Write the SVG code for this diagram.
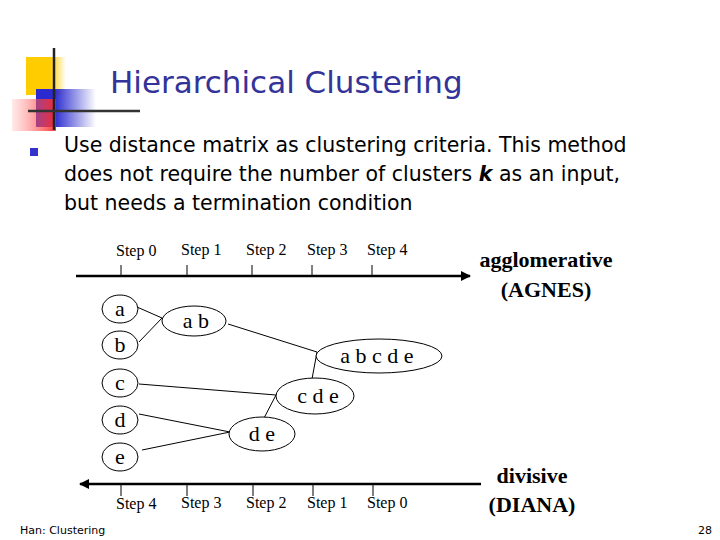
<svg xmlns="http://www.w3.org/2000/svg" width="720" height="540" viewBox="0 0 720 540">
<defs>
<linearGradient id="gy" x1="0" x2="1"><stop offset="0.6" stop-color="#ffcc00"/><stop offset="1" stop-color="#ffcc00" stop-opacity="0"/></linearGradient>
<linearGradient id="gb" x1="0" x2="1"><stop offset="0.3" stop-color="#2a2ad0"/><stop offset="1" stop-color="#2a2ad0" stop-opacity="0"/></linearGradient>
<linearGradient id="gr" x1="1" x2="0"><stop offset="0.1" stop-color="#ff3030"/><stop offset="1" stop-color="#ff8080" stop-opacity="0.2"/></linearGradient>
<marker id="ah" viewBox="0 0 10 10" refX="9" refY="5" markerWidth="4" markerHeight="4" orient="auto-start-reverse"><path d="M0,0L10,5L0,10z" fill="#000"/></marker>
<style>
.ser{font-family:"Liberation Serif",serif;fill:#000}
.step{font-size:16px}
.lbl{font-size:22px;text-anchor:middle}
.n ellipse{fill:#fff;stroke:#000;stroke-width:1}
.c line{stroke:#000;stroke-width:1}
.ax{stroke:#000;stroke-width:2.5}
.tk{stroke:#000;stroke-width:1}
</style>
</defs>
<rect width="720" height="540" fill="#fff"/>
<rect x="26" y="57" width="40" height="38" fill="url(#gy)"/>
<rect x="36" y="89" width="60" height="38" fill="url(#gb)"/>
<rect x="12" y="99" width="44" height="32" fill="url(#gr)" opacity="0.85"/>
<line x1="54" y1="48" x2="54" y2="130" stroke="#222" stroke-width="2.5"/>
<line x1="28" y1="111" x2="140" y2="111" stroke="#333" stroke-width="2.5"/>
<text x="110" y="93" font-family="DejaVu Sans,sans-serif" font-size="31" fill="#333399">Hierarchical Clustering</text>
<rect x="30" y="148" width="8" height="8" fill="#3333cc"/>
<g font-family="DejaVu Sans,sans-serif" font-size="20.5" fill="#000">
<text x="64" y="152">Use distance matrix as clustering criteria.  This method</text>
<text x="64" y="181">does not require the number of clusters <tspan font-weight="bold" font-style="italic">k</tspan> as an input,</text>
<text x="64" y="210">but needs a termination condition</text>
</g>
<g class="ser step">
<text x="116" y="256">Step 0</text><text x="181" y="255">Step 1</text><text x="246" y="255">Step 2</text><text x="307" y="255">Step 3</text><text x="367" y="255">Step 4</text>
<text x="116" y="509">Step 4</text><text x="181" y="508">Step 3</text><text x="246" y="508">Step 2</text><text x="307" y="508">Step 1</text><text x="367" y="508">Step 0</text>
</g>
<line class="ax" x1="76" y1="276" x2="470" y2="276" marker-end="url(#ah)"/>
<line class="ax" x1="481" y1="484" x2="80" y2="484" marker-end="url(#ah)"/>
<g class="tk">
<line x1="121" y1="265" x2="121" y2="276"/><line x1="187" y1="265" x2="187" y2="276"/><line x1="252" y1="265" x2="252" y2="276"/><line x1="312" y1="265" x2="312" y2="276"/><line x1="372" y1="265" x2="372" y2="276"/>
<line x1="121" y1="484" x2="121" y2="496"/><line x1="187" y1="484" x2="187" y2="496"/><line x1="253" y1="484" x2="253" y2="496"/><line x1="313" y1="484" x2="313" y2="496"/><line x1="373" y1="484" x2="373" y2="496"/>
</g>
<g class="ser" font-weight="bold" font-size="22" text-anchor="middle">
<text x="546" y="267">agglomerative</text><text x="546" y="297">(AGNES)</text>
<text x="532" y="483">divisive</text><text x="532" y="512">(DIANA)</text>
</g>
<g class="c">
<line x1="137" y1="307" x2="162" y2="318"/><line x1="139" y1="342" x2="162" y2="318"/>
<line x1="228" y1="324" x2="317" y2="352"/><line x1="317" y1="352" x2="312" y2="379"/>
<line x1="139" y1="384" x2="276" y2="395"/><line x1="276" y1="395" x2="263" y2="420"/>
<line x1="139" y1="414" x2="230" y2="432"/><line x1="142" y1="450" x2="230" y2="432"/>
</g>
<g class="n" id="a"><ellipse cx="120" cy="309" rx="18" ry="14"/><text class="ser lbl" x="120" y="316">a</text></g>
<g class="n" id="b"><ellipse cx="120" cy="345" rx="18" ry="14"/><text class="ser lbl" x="120" y="352">b</text></g>
<g class="n" id="c"><ellipse cx="120" cy="383" rx="18" ry="14"/><text class="ser lbl" x="120" y="390">c</text></g>
<g class="n" id="d"><ellipse cx="120" cy="420" rx="18" ry="14"/><text class="ser lbl" x="120" y="427">d</text></g>
<g class="n" id="e"><ellipse cx="120" cy="457" rx="18" ry="14"/><text class="ser lbl" x="120" y="464">e</text></g>
<g class="n" id="ab"><ellipse cx="194" cy="321" rx="32" ry="15"/><text class="ser lbl" x="196" y="328">a b</text></g>
<g class="n" id="abcde"><ellipse cx="379" cy="356" rx="63" ry="17"/><text class="ser lbl" x="377" y="363">a b c d e</text></g>
<g class="n" id="cde"><ellipse cx="315" cy="396" rx="39" ry="18"/><text class="ser lbl" x="318" y="403">c d e</text></g>
<g class="n" id="de"><ellipse cx="262" cy="434" rx="33" ry="17"/><text class="ser lbl" x="262" y="441">d e</text></g>
<text x="20" y="534" font-family="DejaVu Sans,sans-serif" font-size="11">Han: Clustering</text>
<text x="712" y="534" font-family="DejaVu Sans,sans-serif" font-size="11" text-anchor="end">28</text>
</svg>
